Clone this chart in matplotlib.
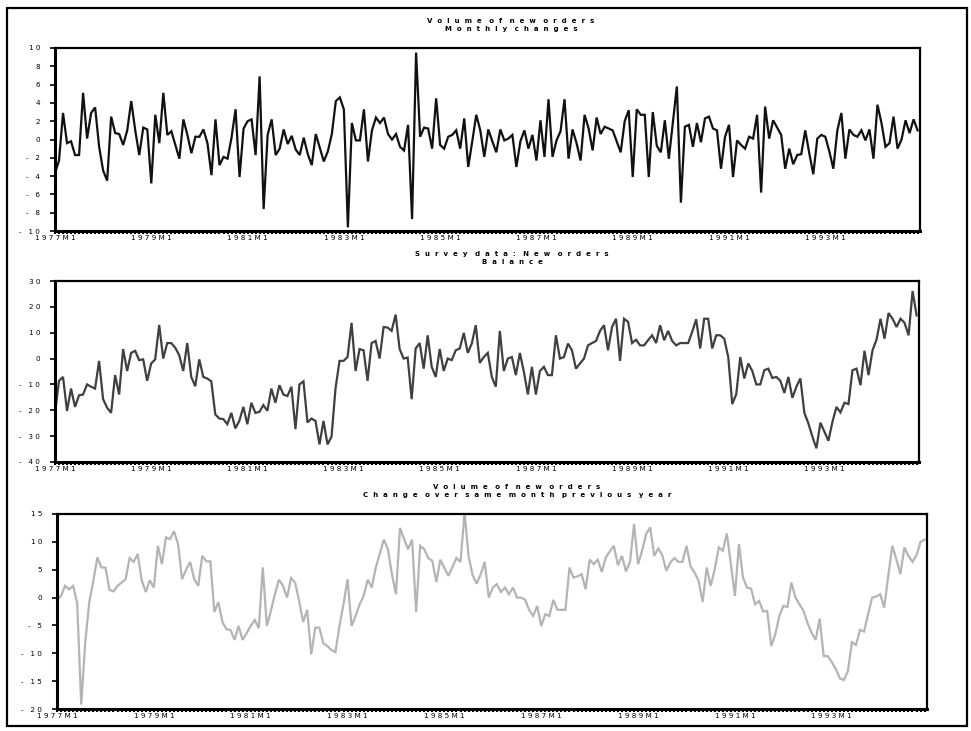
import numpy as np
import matplotlib
matplotlib.use("Agg")
import matplotlib.pyplot as plt
from matplotlib.patches import Rectangle
from matplotlib.ticker import MultipleLocator

# monthly data, 1977M1 .. 1994M12
monthly_changes = [
    -3.7, -2.3, 2.9, -0.4, -0.2, -1.7, -1.7, 5.1, 0.1, 2.9,
    3.5, -0.8, -3.4, -4.5, 2.5, 0.7, 0.6, -0.6, 1.0, 4.2,
    1.0, -1.7, 1.3, 1.1, -4.8, 2.7, -0.4, 5.1, 0.5, 0.9,
    -0.6, -2.1, 2.2, 0.5, -1.5, 0.3, 0.3, 1.1, -0.4, -3.9,
    2.2, -2.8, -1.9, -2.1, 0.2, 3.3, -4.1, 1.2, 2.0, 2.2,
    -1.7, 6.9, -7.6, 0.5, 2.2, -1.7, -1.0, 1.1, -0.5, 0.4,
    -1.1, -1.7, 0.2, -1.6, -2.8, 0.6, -0.9, -2.4, -1.3, 0.6,
    4.2, 4.6, 3.3, -9.6, 1.8, -0.1, -0.1, 3.3, -2.4, 1.0,
    2.4, 1.8, 2.4, 0.6, 0.0, 0.6, -0.8, -1.2, 1.6, -8.7,
    9.5, 0.3, 1.3, 1.2, -1.0, 4.5, -0.6, -1.0, 0.3, 0.5,
    1.0, -1.0, 2.3, -3.0, -0.2, 2.7, 1.0, -1.9, 1.1, -0.2,
    -1.4, 1.1, -0.1, 0.1, 0.5, -3.0, -0.2, 1.0, -1.0, 0.5,
    -2.3, 2.1, -1.9, 4.4, -1.9, -0.1, 0.9, 4.4, -2.1, 1.1,
    -0.4, -2.3, 2.7, 1.2, -1.2, 2.4, 0.6, 1.4, 1.2, 1.0,
    -0.2, -1.4, 2.0, 3.2, -4.1, 3.3, 2.7, 2.7, -4.1, 3.0,
    -0.7, -1.4, 2.1, -2.1, 1.8, 5.8, -6.9, 1.4, 1.6, -0.8,
    1.8, -0.3, 2.3, 2.5, 1.2, 1.0, -3.2, 0.3, 1.6, -4.1,
    -0.1, -0.6, -1.0, 0.3, 0.1, 2.7, -5.8, 3.6, 0.1, 2.1,
    1.3, 0.5, -3.2, -1.0, -2.7, -1.7, -1.6, 1.0, -1.5, -3.8,
    0.1, 0.5, 0.3, -1.3, -3.2, 1.0, 2.9, -2.1, 1.1, 0.5,
    0.3, 1.0, -0.1, 1.1, -2.1, 3.8, 1.8, -0.8, -0.4, 2.5,
    -1.0, 0.0, 2.1, 0.7, 2.2, 1.0,
]

survey_balance = [
    -21.0, -8.6, -7.1, -20.3, -11.6, -18.7, -14.2, -13.9, -10.0, -10.9,
    -11.6, -0.9, -15.7, -19.0, -21.0, -6.4, -13.9, 3.7, -4.8, 2.2,
    3.0, -0.6, -0.3, -8.6, -1.9, -0.3, 13.0, 0.0, 6.0, 6.0,
    4.2, 1.3, -4.8, 6.0, -7.1, -10.7, -0.3, -7.1, -7.7, -8.8,
    -21.6, -23.2, -23.4, -25.4, -21.0, -27.0, -24.1, -18.7, -25.4, -17.1,
    -21.0, -20.6, -18.0, -20.2, -11.6, -17.1, -10.3, -13.9, -14.5, -10.9,
    -27.3, -10.0, -8.8, -24.7, -23.2, -24.1, -33.2, -24.1, -33.2, -30.2,
    -11.5, -0.9, -0.9, 0.6, 13.8, -4.8, 3.7, 3.2, -8.6, 6.0,
    6.8, 0.0, 12.2, 12.0, 10.7, 17.0, 3.7, 0.0, 0.4, -15.7,
    3.9, 6.0, -3.9, 9.0, -3.2, -7.1, 3.7, -4.8, 0.0, -0.6,
    3.2, 3.9, 9.9, 2.2, 5.8, 12.9, -1.7, 0.6, 2.2, -7.1,
    -10.9, 10.7, -4.8, 0.0, 0.6, -6.4, 2.2, -5.1, -13.9, -3.2,
    -13.9, -4.8, -3.2, -6.4, -6.4, 9.0, 0.0, 0.6, 5.8, 3.2,
    -3.9, -1.9, 0.0, 5.1, 6.0, 6.8, 10.7, 12.9, 3.2, 12.2,
    15.4, -0.9, 15.4, 14.2, 6.0, 7.3, 5.1, 5.1, 7.1, 9.0,
    6.0, 12.9, 7.1, 10.7, 6.8, 5.1, 6.0, 6.0, 6.0, 10.3,
    15.2, 3.9, 15.4, 15.4, 3.9, 9.0, 9.0, 7.7, 0.6, -17.6,
    -13.8, 0.6, -7.7, -1.9, -4.8, -10.0, -10.0, -4.5, -3.9, -7.5,
    -7.1, -8.6, -13.3, -7.1, -15.2, -10.9, -7.7, -21.0, -25.1, -30.2,
    -34.7, -24.8, -28.3, -31.8, -24.5, -18.7, -20.8, -17.1, -17.6, -4.5,
    -3.9, -10.3, 3.0, -6.4, 3.2, 7.3, 15.4, 7.7, 17.6, 15.4,
    12.2, 15.4, 13.8, 9.0, 26.1, 16.7,
]

yoy_change = [
    -0.4, 0.3, 2.1, 1.5, 2.1, -1.0, -19.2, -8.0, -0.8, 3.0,
    7.2, 5.4, 5.4, 1.4, 1.1, 2.1, 2.7, 3.3, 7.1, 6.4,
    7.8, 3.1, 1.0, 3.1, 1.8, 9.3, 6.0, 10.8, 10.5, 11.9,
    9.6, 3.3, 5.0, 6.4, 3.3, 2.1, 7.5, 6.5, 6.5, -2.6,
    -0.8, -4.4, -5.7, -5.8, -7.6, -5.1, -7.6, -6.4, -5.1, -4.0,
    -5.5, 5.4, -5.1, -2.4, 0.6, 3.2, 2.1, 0.0, 3.5, 2.7,
    -0.6, -4.4, -2.2, -10.2, -5.4, -5.4, -8.2, -8.7, -9.4, -9.8,
    -5.1, -1.2, 3.3, -5.1, -3.3, -1.2, 0.3, 3.2, 1.8, 5.4,
    7.9, 10.4, 8.7, 4.2, 0.6, 12.5, 10.5, 8.7, 10.4, -2.6,
    9.3, 8.7, 7.1, 6.6, 2.8, 6.8, 5.3, 3.9, 5.5, 7.1,
    6.4, 15.3, 7.4, 4.0, 2.5, 4.2, 6.4, 0.0, 1.8, 2.4,
    1.0, 1.8, 0.6, 1.8, 0.0, 0.0, -0.4, -2.2, -3.3, -1.5,
    -5.1, -3.0, -3.3, -0.4, -2.2, -2.2, -2.2, 5.4, 3.6, 3.8,
    4.2, 1.5, 6.8, 6.0, 6.8, 4.6, 7.2, 8.3, 9.3, 5.8,
    7.5, 4.7, 6.4, 13.2, 6.0, 8.4, 11.4, 12.6, 7.5, 8.8,
    7.6, 4.8, 6.3, 7.1, 6.4, 6.4, 9.3, 5.6, 4.5, 3.0,
    -0.8, 5.4, 2.1, 5.1, 9.0, 8.4, 11.5, 6.0, 0.3, 9.6,
    3.6, 1.8, 1.6, -1.2, -0.6, -2.5, -2.4, -8.7, -6.6, -3.3,
    -1.5, -1.7, 2.7, 0.0, -1.2, -2.4, -4.6, -6.3, -7.6, -3.8,
    -10.5, -10.5, -11.6, -12.8, -14.5, -14.8, -13.2, -8.0, -8.5, -5.8,
    -6.1, -3.0, 0.0, 0.2, 0.6, -1.8, 3.9, 9.3, 6.9, 4.2,
    9.0, 7.5, 6.4, 7.6, 10.0, 10.4,
]

tick_labels = ['1977M1', '1979M1', '1981M1', '1983M1', '1985M1',
               '1987M1', '1989M1', '1991M1', '1993M1']

W, H = 971, 731


def spaced(s, gap=' ', word_gap='   '):
    # letter-spaced text like the original
    return word_gap.join(gap.join(word) for word in s.split(' '))


def add_panel(fig, box, values, color, ylim, ystep, titles, title_x, title_y):
    l, t, r, b = box
    ax = fig.add_axes([l / W, 1 - b / H, (r - l) / W, (b - t) / H])
    x = np.arange(len(values))
    ax.plot(x, values, color=color, lw=1.6, solid_joinstyle='miter')
    ax.set_xlim(0, len(values) - 0.4)
    ax.set_ylim(*ylim)

    yt = np.arange(ylim[0], ylim[1] + ystep / 2, ystep)
    ax.set_yticks(yt)
    ax.set_yticklabels([spaced(str(int(v)).replace('-', '- ')) if v < 0
                        else spaced(str(int(v))) for v in yt])
    ax.set_xticks(np.arange(0, len(values), 24))
    ax.set_xticklabels([spaced(s) for s in tick_labels])
    ax.xaxis.set_minor_locator(MultipleLocator(1))

    ax.tick_params(axis='y', direction='out', length=3.6, width=1.2,
                   pad=7, labelsize=5.2, right=False)
    ax.tick_params(axis='x', which='both', direction='out', length=2.2,
                   width=1.5, pad=1, labelsize=5.2, top=False)
    for side in ['top', 'right']:
        ax.spines[side].set_linewidth(1.6)
    for side in ['left', 'bottom']:
        ax.spines[side].set_linewidth(2.2)

    for k, txt in enumerate(titles):
        fig.text(title_x / W, 1 - (title_y + 8.3 * k) / H,
                 spaced(txt, gap='  ', word_gap='   '),
                 ha='center', va='center', fontsize=5.0, fontweight='bold')
    return ax


fig = plt.figure(figsize=(W / 100, H / 100), dpi=100)
plt.rcParams['font.family'] = ['DejaVu Sans']

add_panel(fig, (55, 48, 920, 231), monthly_changes, '#111111', (-10, 10), 2,
          ['Volume of new orders', 'Monthly changes'], 511, 21)
add_panel(fig, (55, 281, 919, 462), survey_balance, '#404040', (-40, 30), 10,
          ['Survey data: New orders', 'Balance'], 512, 254)
add_panel(fig, (57, 514, 927, 709), yoy_change, '#b4b4b4', (-20, 15), 5,
          ['Volume of new orders', 'Change over same month previous year'],
          517, 487)

fig.patches.append(Rectangle((7 / W, 1 - 726 / H), 960 / W, 718 / H,
                             transform=fig.transFigure, fill=False,
                             lw=1.6, ec='black'))

fig.savefig('out.png', dpi=100)
